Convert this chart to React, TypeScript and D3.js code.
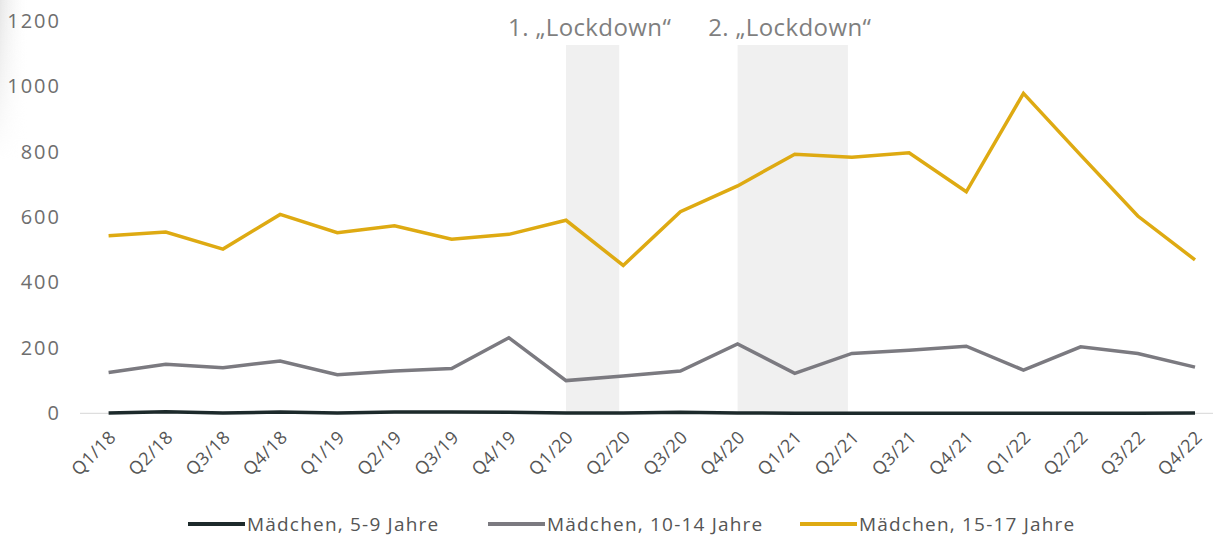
import React from "react";
import * as d3 from "d3";

const quarters = [
  "Q1/18", "Q2/18", "Q3/18", "Q4/18",
  "Q1/19", "Q2/19", "Q3/19", "Q4/19",
  "Q1/20", "Q2/20", "Q3/20", "Q4/20",
  "Q1/21", "Q2/21", "Q3/21", "Q4/21",
  "Q1/22", "Q2/22", "Q3/22", "Q4/22",
];

const girls5to9 = [1, 5, 1, 4, 1, 4, 4, 3, 1, 1, 3, 1, 0, 0, 0, 0, 0, 0, 0, 1];
const girls10to14 = [125, 150, 139, 160, 118, 129, 137, 231, 100, 114, 129, 212, 122, 183, 193, 205, 132, 203, 183, 141];
const girls15to17 = [543, 554, 502, 608, 552, 573, 532, 547, 590, 452, 616, 695, 792, 783, 796, 677, 978, 789, 603, 469];

const yTicks = [0, 200, 400, 600, 800, 1000, 1200];

const lockdowns = [
  { label: "1. „Lockdown“", from: "Q1/20", to: "Q2/20" },
  { label: "2. „Lockdown“", from: "Q4/20", to: "Q2/21" },
];

const series = [
  { name: "Mädchen, 5-9 Jahre", values: girls5to9, color: "#1d2a2b" },
  { name: "Mädchen, 10-14 Jahre", values: girls10to14, color: "#7b7a80" },
  { name: "Mädchen, 15-17 Jahre", values: girls15to17, color: "#deaa12" },
];

const W = 1213;
const H = 536;

export default function App() {
  const x = d3.scalePoint<string>().domain(quarters).range([108.6, 1195]);
  const y = d3.scaleLinear().domain([0, 1200]).range([413.3, 20.7]);

  const line = d3
    .line<number>()
    .x((d, i) => x(quarters[i]) as number)
    .y((d) => y(d));

  const legendX = [188, 488, 800];

  return (
    <svg
      width={W}
      height={H}
      style={{ position: "absolute", left: 0, top: 0, background: "#fff" }}
    >
      <defs>
        <linearGradient id="edge" x1="0" x2="1" y1="0" y2="0">
          <stop offset="0" stopColor="#e4e4e4" stopOpacity={0.9} />
          <stop offset="1" stopColor="#ffffff" stopOpacity={0} />
        </linearGradient>
        <linearGradient id="edgeFade" x1="0" x2="0" y1="0" y2="1">
          <stop offset="0" stopColor="#fff" stopOpacity={1} />
          <stop offset="1" stopColor="#fff" stopOpacity={0} />
        </linearGradient>
        <mask id="edgeMask">
          <rect x={0} y={0} width={30} height={160} fill="url(#edgeFade)" />
        </mask>
      </defs>
      <rect x={0} y={0} width={30} height={160} fill="url(#edge)" mask="url(#edgeMask)" />

      {lockdowns.map((l) => {
        const x0 = x(l.from) as number;
        const x1 = (x(l.to) as number) - 4;
        return (
          <g key={l.label}>
            <rect x={x0} y={45} width={x1 - x0} height={y(0) - 45} fill="#f0f0f0" />
            <text
              x={(x0 + x1) / 2 - 3}
              y={36}
              textAnchor="middle"
              fontFamily="'Open Sans', sans-serif"
              fontSize={24}
              letterSpacing={0.4}
              fill="#7f7f7f"
            >
              {l.label}
            </text>
          </g>
        );
      })}

      <line x1={80} x2={W} y1={y(0)} y2={y(0)} stroke="#d6d6d6" strokeWidth={1} />

      {yTicks.map((t) => (
        <text
          key={t}
          x={61}
          y={y(t)}
          dy="0.35em"
          textAnchor="end"
          fontFamily="'Open Sans', sans-serif"
          fontSize={20}
          letterSpacing={2}
          fill="#6e6e6e"
        >
          {t}
        </text>
      ))}

      {quarters.map((q) => (
        <text
          key={q}
          transform={`translate(${(x(q) as number) + 4},${434}) rotate(-45)`}
          textAnchor="end"
          dy="0.35em"
          fontFamily="'Open Sans', sans-serif"
          fontSize={18}
          letterSpacing={0.5}
          fill="#555"
        >
          {q}
        </text>
      ))}

      {series
        .slice()
        .reverse()
        .map((s) => (
          <path
            key={s.name}
            d={line(s.values) || ""}
            fill="none"
            stroke={s.color}
            strokeWidth={3.5}
            strokeLinejoin="miter"
          />
        ))}

      {series.map((s, i) => (
        <g key={s.name} transform={`translate(${legendX[i]},524)`}>
          <line x1={0} x2={57} y1={0} y2={0} stroke={s.color} strokeWidth={4} />
          <text
            x={59}
            y={0}
            dy="0.35em"
            fontFamily="'Open Sans', sans-serif"
            fontSize={19}
            letterSpacing={1.2}
            fill="#555"
          >
            {s.name}
          </text>
        </g>
      ))}
    </svg>
  );
}
